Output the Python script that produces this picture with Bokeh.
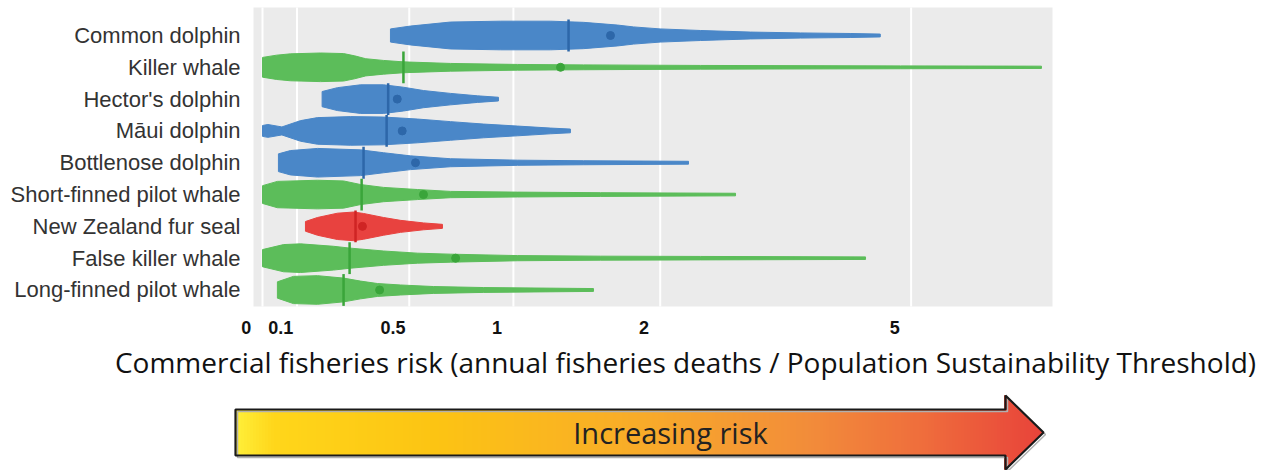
import numpy as np
from bokeh.plotting import figure
from bokeh.models import Range1d
from bokeh.core.properties import value
from bokeh.embed import file_html
from bokeh.resources import INLINE

# ---------------- data ----------------
species = ["Common dolphin", "Killer whale", "Hector's dolphin", "Māui dolphin",
           "Bottlenose dolphin", "Short-finned pilot whale", "New Zealand fur seal",
           "False killer whale", "Long-finned pilot whale"]
group = ["blue", "green", "blue", "blue", "blue", "green", "red", "green", "green"]

# violin outlines: risk value and relative half-width (1 = widest)
common_x = [0.424, 0.505, 0.681, 0.93, 1.216, 1.427, 1.666, 1.787, 2.0, 2.353, 2.85, 3.42, 4.07, 4.51]
common_w = [0.46, 0.66, 0.94, 1.0, 1.0, 0.92, 0.73, 0.6, 0.46, 0.35, 0.24, 0.18, 0.14, 0.1]
killer_x = [0.0, 0.04, 0.08, 0.174, 0.251, 0.29, 0.33, 0.397, 0.476, 0.681, 1.023, 1.427, 2.353, 4.826, 7.6]
killer_w = [0.69, 0.85, 0.94, 1.0, 0.96, 0.8, 0.6, 0.48, 0.38, 0.27, 0.2, 0.17, 0.13, 0.1, 0.08]
hector_x = [0.179, 0.23, 0.311, 0.397, 0.476, 0.56, 0.681, 0.811, 0.919]
hector_w = [0.53, 0.8, 1.0, 1.0, 0.83, 0.6, 0.4, 0.23, 0.13]
maui_x = [0.0, 0.015, 0.055, 0.111, 0.164, 0.275, 0.397, 0.535, 0.681, 0.841, 1.023, 1.216, 1.341]
maui_w = [0.38, 0.45, 0.28, 0.72, 0.93, 1.0, 0.97, 0.83, 0.65, 0.48, 0.34, 0.2, 0.13]
bottlenose_x = [0.045, 0.08, 0.164, 0.311, 0.397, 0.505, 0.681, 1.023, 1.427, 2.244]
bottlenose_w = [0.62, 0.85, 1.0, 0.9, 0.7, 0.48, 0.28, 0.18, 0.14, 0.1]
short_x = [0.0, 0.042, 0.164, 0.251, 0.311, 0.397, 0.535, 0.681, 1.023, 1.544, 2.694]
short_w = [0.62, 0.92, 1.0, 0.95, 0.7, 0.5, 0.35, 0.22, 0.17, 0.13, 0.09]
seal_x = [0.126, 0.164, 0.23, 0.286, 0.322, 0.397, 0.464, 0.56, 0.644]
seal_w = [0.34, 0.62, 0.92, 1.0, 0.9, 0.62, 0.42, 0.24, 0.14]
false_x = [0.0, 0.06, 0.111, 0.217, 0.275, 0.397, 0.535, 0.681, 1.023, 1.544, 2.353, 4.29]
false_w = [0.6, 0.95, 1.0, 0.83, 0.7, 0.5, 0.35, 0.28, 0.18, 0.14, 0.12, 0.09]
long_x = [0.042, 0.089, 0.164, 0.251, 0.311, 0.374, 0.464, 0.604, 0.841, 1.495]
long_w = [0.57, 0.95, 1.0, 0.83, 0.62, 0.45, 0.35, 0.24, 0.17, 0.1]

profiles_x = [common_x, killer_x, hector_x, maui_x, bottlenose_x, short_x, seal_x, false_x, long_x]
profiles_w = [common_w, killer_w, hector_w, maui_w, bottlenose_w, short_w, seal_w, false_w, long_w]

medians = [1.329, 0.476, 0.415, 0.409, 0.322, 0.315, 0.293, 0.272, 0.251]
means = [1.615, 1.278, 0.451, 0.471, 0.526, 0.56, 0.318, 0.705, 0.382]

tick_values = [0, 0.1, 0.5, 1, 2, 5]
tick_labels = ["0", "0.1", "0.5", "1", "2", "5"]

axis_title = "Commercial fisheries risk (annual fisheries deaths / Population Sustainability Threshold)"
arrow_text = "Increasing risk"

# ---------------- styles / layout ----------------
W, H = 1281, 470
PX0, PXU = 262.0, 362.0          # pixel of risk 0 and pixels per log1p unit
ROW9_PX, ROW_PX = 35.0, 31.81     # pixel of top row and row spacing
panel_x = (-0.0249, 2.1823)       # panel extent (log1p units)
panel_y = (0.481, 9.880)          # panel extent (row units)
fill_col = {"blue": "#4a87c8", "green": "#5cbd5a", "red": "#e8423f"}
dark_col = {"blue": "#2d67a9", "green": "#3aa53a", "red": "#cf2424"}
HALF = 0.45
label_shift = 0.045


def tr(v):
    return np.log1p(np.asarray(v, dtype=float))


n = len(species)
yc = [n - i for i in range(n)]

x_lo = -PX0 / PXU
x_hi = (W - PX0) / PXU
y_hi = 9 + ROW9_PX / ROW_PX
y_lo = 9 - (H - ROW9_PX) / ROW_PX

p = figure(width=W, height=H, output_backend="svg", toolbar_location=None,
           x_range=Range1d(x_lo, x_hi), y_range=Range1d(y_lo, y_hi),
           x_axis_location=None, y_axis_location=None, min_border=0)
p.extra_x_ranges = {"px": Range1d(0, W)}
p.extra_y_ranges = {"px": Range1d(H, 0)}
p.grid.visible = False
p.outline_line_color = None
p.background_fill_color = "white"
p.border_fill_color = "white"

# panel and grid
p.quad(left=panel_x[0], right=panel_x[1], bottom=panel_y[0], top=panel_y[1],
       fill_color="#ebebeb", line_color=None)
gx = tr(tick_values).tolist()
p.segment(x0=gx, x1=gx, y0=panel_y[0], y1=panel_y[1], line_color="white", line_width=2)

# violins
xs_all, ys_all, fills = [], [], []
for i in range(n):
    xx = tr(profiles_x[i])
    ww = np.asarray(profiles_w[i]) * HALF
    xs_all.append(np.concatenate([xx, xx[::-1]]).tolist())
    ys_all.append(np.concatenate([yc[i] + ww, (yc[i] - ww)[::-1]]).tolist())
    fills.append(fill_col[group[i]])
p.patches(xs_all, ys_all, fill_color=fills, line_color=fills, line_width=1)

darks = [dark_col[g] for g in group]
mx = tr(medians).tolist()
p.segment(x0=mx, x1=mx, y0=[y - 0.5 for y in yc], y1=[y + 0.5 for y in yc],
          line_color=darks, line_width=2.5)
p.scatter(tr(means).tolist(), yc, size=8, fill_color=darks, line_color=darks)

# species labels (y axis)
p.text(x=[(240 - PX0) / PXU] * n, y=yc, text=species, text_align="right", text_baseline="middle",
       text_font=value("Liberation Sans"), text_font_size=value("22px"), text_color="#333333")

# tick labels (x axis)
p.text(x=(tr(tick_values) - label_shift).tolist(), y=[-0.18] * len(tick_values), text=tick_labels,
       text_align="center", text_baseline="middle", text_font=value("Liberation Sans"),
       text_font_style="bold", text_font_size=value("18px"), text_color="#111111")

# axis title
p.text(x=[685], y=[361], text=[axis_title], text_align="center", text_baseline="middle",
       text_font=value("Open Sans"), text_font_size=value("28px"), text_color="#111111",
       x_range_name="px", y_range_name="px")

# ---------------- arrow ----------------
ax0, ax_head, ax_tip = 235, 1005, 1043
ay_top, ay_bot, ay_mid, head_half = 409, 455, 432, 37
stops_x = [235, 275, 435, 650, 810, 920, 1043]
stops_c = ["#fff03a", "#ffd61a", "#fcc413", "#f8aa2a", "#f28c3a", "#ef6e3c", "#e8433a"]


def hex2rgb(h):
    return np.array([int(h[k:k + 2], 16) for k in (1, 3, 5)], dtype=float)


stop_rgb = np.array([hex2rgb(c) for c in stops_c])


def col_at(x):
    r = [np.interp(x, stops_x, stop_rgb[:, k]) for k in range(3)]
    return "#%02x%02x%02x" % tuple(int(round(c)) for c in r)


edges = np.arange(ax0, ax_head + 0.1, 3.0)
lefts = edges[:-1]
rights = edges[1:] + 0.5
cols = [col_at((a + b) / 2) for a, b in zip(lefts, rights)]
p.quad(left=lefts, right=rights, top=ay_top, bottom=ay_bot, fill_color=cols, line_color=cols,
       line_width=1, x_range_name="px", y_range_name="px")

hx = np.arange(ax_head, ax_tip + 0.1, 2.0)
hxs, hys, hcs = [], [], []
for a, b in zip(hx[:-1], hx[1:]):
    ha = head_half * (ax_tip - a) / (ax_tip - ax_head)
    hb = head_half * (ax_tip - b) / (ax_tip - ax_head)
    a0 = a - 1.0
    hxs.append([a0, b, b, a0])
    hys.append([ay_mid - ha, ay_mid - hb, ay_mid + hb, ay_mid + ha])
    hcs.append(col_at((a + b) / 2))
p.patches(hxs, hys, fill_color=hcs, line_color=hcs, line_width=1,
          x_range_name="px", y_range_name="px")

ox = [ax0, ax_head, ax_head, ax_tip, ax_head, ax_head, ax0, ax0]
oy = [ay_top, ay_top, ay_mid - head_half, ay_mid, ay_mid + head_half, ay_bot, ay_bot, ay_top]
p.line([x + 2 for x in ox], [y + 2 for y in oy], line_color="#b0b0b0", line_width=1.5,
       x_range_name="px", y_range_name="px")
p.patch(ox, oy, fill_color=None, line_color="#1a1a1a", line_width=2.2,
        x_range_name="px", y_range_name="px")
p.text(x=[670], y=[ay_mid], text=[arrow_text], text_align="center", text_baseline="middle",
       text_font=value("Open Sans"), text_font_size=value("29px"), text_color="#222222",
       x_range_name="px", y_range_name="px")

open("out.html", "w").write(file_html(p, INLINE))
